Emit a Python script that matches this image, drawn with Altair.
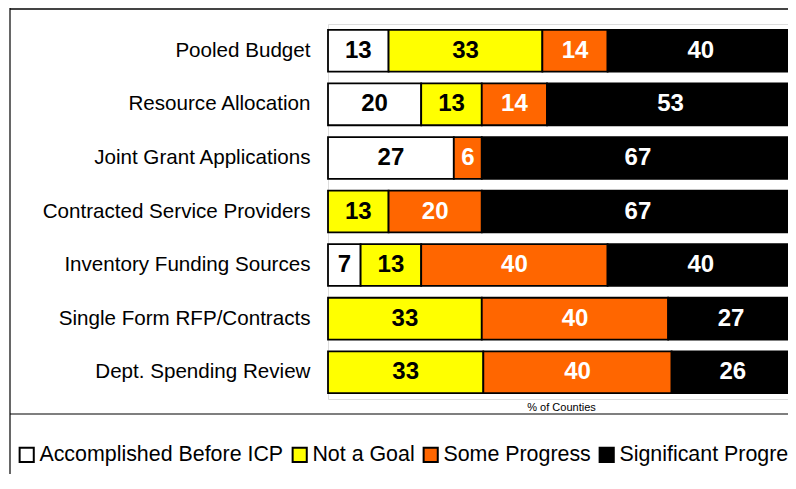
import altair as alt
import pandas as pd

categories = ["Pooled Budget", "Resource Allocation", "Joint Grant Applications",
              "Contracted Service Providers", "Inventory Funding Sources",
              "Single Form RFP/Contracts", "Dept. Spending Review"]
series = ["Accomplished Before ICP", "Not a Goal", "Some Progress", "Significant Progress"]
accomplished = [13, 20, 27, 0, 7, 0, 0]
not_goal = [33, 13, 0, 13, 13, 33, 33]
some_progress = [14, 14, 6, 20, 40, 40, 40]
significant = [40, 53, 67, 67, 40, 27, 26]
colors = ["#FFFFFF", "#FFFF00", "#FF6600", "#000000"]
text_colors = ["#000000", "#000000", "#FFFFFF", "#FFFFFF"]

rows = []
for i, c in enumerate(categories):
    for j, (s, vals) in enumerate(zip(series, [accomplished, not_goal, some_progress, significant])):
        rows.append({"cat": c, "series": s, "order": j, "value": vals[i], "tcol": text_colors[j]})
df = pd.DataFrame(rows)

PLOT_W = 466
PLOT_H = 375
PAD_L = 320
PAD_T = 16

y_enc = alt.Y("cat:N", sort=categories,
              scale=alt.Scale(paddingInner=0.22, paddingOuter=0.11),
              axis=alt.Axis(title=None, ticks=False, domain=False, grid=False, labelFontSize=20.6,
                            labelFont="Liberation Sans", labelColor="#000000",
                            labelPadding=18, labelLimit=400))

base = alt.Chart(df).transform_joinaggregate(
    total="sum(value)", groupby=["cat"]
).transform_window(
    cum="sum(value)", groupby=["cat"], sort=[alt.SortField("order")], frame=[None, 0]
).transform_calculate(
    x0="(datum.cum - datum.value) / datum.total",
    x1="datum.cum / datum.total",
    mid="(datum.cum - datum.value / 2) / datum.total",
).transform_filter("datum.value > 0")

bars = base.mark_bar(stroke="#000000", strokeWidth=1.8).encode(
    x=alt.X("x0:Q", scale=alt.Scale(domain=[0, 1], nice=False),
            axis=alt.Axis(title="% of Counties", labels=False, ticks=False, domain=False,
                          grid=False, titleFontSize=11, titleFontWeight="normal",
                          titleFont="Liberation Sans", titlePadding=2, titleColor="#000000")),
    x2="x1:Q",
    y=y_enc,
    fill=alt.Fill("series:N", sort=series,
                  scale=alt.Scale(domain=series, range=colors),
                  legend=alt.Legend(title=None, orient="none", direction="horizontal",
                                    legendX=-312, legendY=420, symbolType="square",
                                    symbolSize=200, symbolStrokeColor="#000000",
                                    symbolStrokeWidth=2, labelFontSize=21.4,
                                    labelFont="Liberation Sans", labelColor="#000000",
                                    labelOffset=2, columnPadding=4, labelLimit=400)),
)

labels = base.mark_text(font="Liberation Sans", fontSize=24, fontWeight="bold", baseline="middle").encode(
    x=alt.X("mid:Q"),
    y=alt.Y("cat:N", sort=categories),
    text=alt.Text("value:Q"),
    color=alt.Color("tcol:N", scale=None),
)

frame_df = pd.DataFrame({"a": [0]})
top_line = alt.Chart(frame_df).mark_rule(color="#444444", strokeWidth=2).encode(
    x=alt.value(-318), x2=alt.value(PLOT_W + 10), y=alt.value(-PAD_T + 1))
left_line = alt.Chart(frame_df).mark_rule(color="#000000", strokeWidth=1.2).encode(
    x=alt.value(-318), y=alt.value(-PAD_T), y2=alt.value(PLOT_H + 120))
div_line = alt.Chart(frame_df).mark_rule(color="#000000", strokeWidth=1.2).encode(
    x=alt.value(-318), x2=alt.value(PLOT_W + 10), y=alt.value(390))

chart = alt.layer(bars, labels, top_line, left_line, div_line).properties(
    width=PLOT_W, height=PLOT_H,
    autosize=alt.AutoSizeParams(type="none"),
    padding={"left": PAD_L, "top": PAD_T, "right": -6, "bottom": 75},
).configure_view(stroke="#FFFFFF", strokeWidth=0, strokeOpacity=0).configure_axis(
    grid=False, domain=False, ticks=False
).configure(background="#FFFFFF")

chart.save("out.html", embed_options={"renderer": "svg", "actions": False})
